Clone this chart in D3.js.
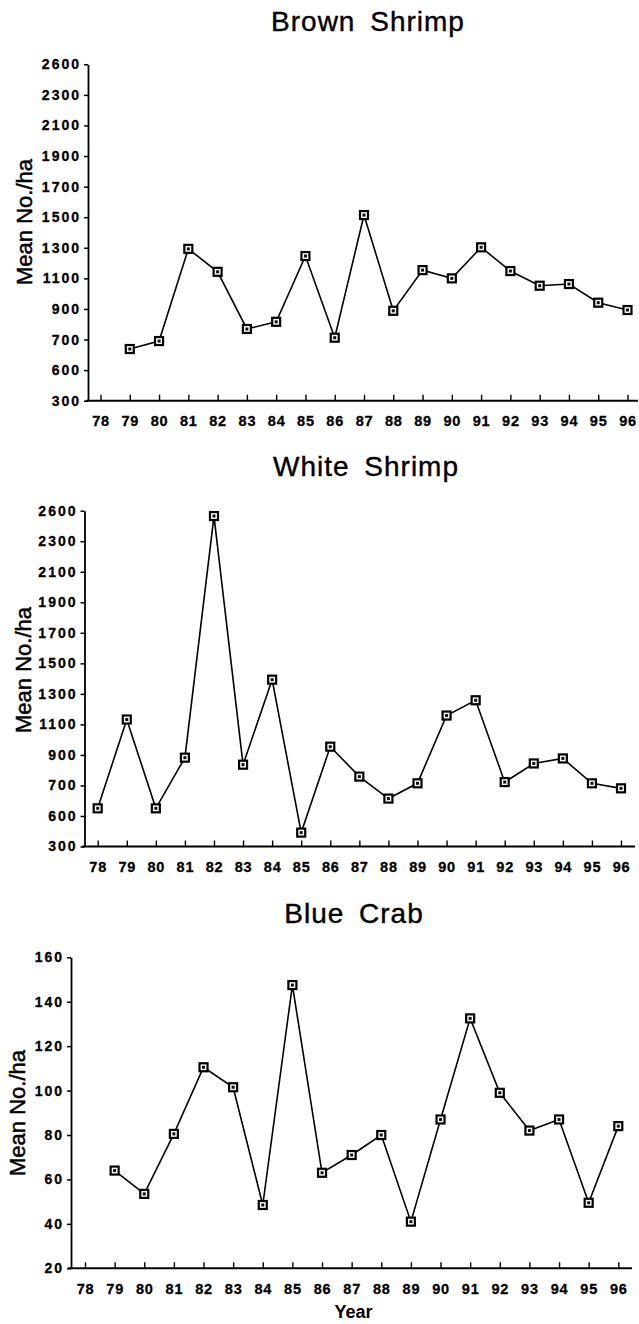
<!DOCTYPE html>
<html>
<head>
<meta charset="utf-8">
<script src="https://cdn.jsdelivr.net/npm/d3@7"></script>
<style>
  html, body { margin: 0; padding: 0; background: #fff; }
  svg { display: block; }
  .title { font-family: "Liberation Sans", Arial, sans-serif; font-size: 28px; letter-spacing: 1px; word-spacing: 6px; fill: #000; stroke: #000; stroke-width: 0.4px; }
  .ylab { font-family: "Liberation Sans", Arial, sans-serif; font-size: 22px; fill: #000; stroke: #000; stroke-width: 0.5px; }
  .ytick text { font-family: "Liberation Sans", Arial, sans-serif; font-size: 14px; font-weight: bold; letter-spacing: 2px; fill: #000; stroke: #000; stroke-width: 0.3px; }
  .xtick text { font-family: "Liberation Sans", Arial, sans-serif; font-size: 14.5px; font-weight: bold; letter-spacing: 0.8px; fill: #000; stroke: #000; stroke-width: 0.3px; }
  .xlab { font-family: "Liberation Sans", Arial, sans-serif; font-size: 18px; font-weight: bold; fill: #000; }
</style>
</head>
<body>
<script>
// ---- data ----
const years = [78, 79, 80, 81, 82, 83, 84, 85, 86, 87, 88, 89, 90, 91, 92, 93, 94, 95, 96];
const yearLabels = ["78", "79", "80", "81", "82", "83", "84", "85", "86", "87", "88", "89", "90", "91", "92", "93", "94", "95", "96"];

const brownYears = [79, 80, 81, 82, 83, 84, 85, 86, 87, 88, 89, 90, 91, 92, 93, 94, 95, 96];
const brownValues = [638, 690, 1293, 1143, 769, 816, 1246, 712, 1514, 888, 1154, 1100, 1303, 1148, 1052, 1063, 941, 893];

const whiteYears = [78, 79, 80, 81, 82, 83, 84, 85, 86, 87, 88, 89, 90, 91, 92, 93, 94, 95, 96];
const whiteValues = [550, 1132, 550, 882, 2465, 836, 1393, 391, 954, 758, 614, 714, 1158, 1258, 722, 844, 877, 714, 681];

const crabYears = [79, 80, 81, 82, 83, 84, 85, 86, 87, 88, 89, 90, 91, 92, 93, 94, 95, 96];
const crabValues = [64, 53.5, 80.5, 110.5, 101.5, 48.5, 147.5, 63, 71, 80, 41, 87, 132.5, 99, 82, 87, 49.5, 84];

const shrimpTickValues = [300, 500, 700, 900, 1100, 1300, 1500, 1700, 1900, 2100, 2300, 2500];
const shrimpTickLabels = ["300", "600", "700", "900", "1100", "1300", "1500", "1700", "1900", "2100", "2300", "2600"];

const crabTickValues = [20, 40, 60, 80, 100, 120, 140, 160];
const crabTickLabels = ["20", "40", "60", "80", "100", "120", "140", "160"];

const titles = ["Brown Shrimp", "White Shrimp", "Blue Crab"];
const yAxisTitle = "Mean No./ha";
const xAxisTitle = "Year";

// ---- drawing ----
const W = 639, H = 1324;
const svg = d3.select("body").append("svg").attr("width", W).attr("height", H);

function panel(cfg) {
  const g = svg.append("g");
  const x = d3.scaleLinear().domain([78, 96]).range([cfg.x78, cfg.x96]);
  const y = d3.scaleLinear().domain(cfg.yDomain).range([cfg.yBottom, cfg.yTop]);

  g.append("text").attr("class", "title")
    .attr("x", cfg.titleX).attr("y", cfg.titleY)
    .attr("text-anchor", "middle").text(cfg.title);

  const yAxis = d3.axisLeft(y)
    .tickValues(cfg.tickValues)
    .tickFormat((d, i) => cfg.tickLabels[i])
    .tickSize(4).tickSizeOuter(0).tickPadding(3);
  const ya = g.append("g").attr("class", "ytick")
    .attr("transform", `translate(${cfg.axisX},0)`)
    .call(yAxis);
  ya.selectAll("path.domain").attr("stroke", "#000").attr("stroke-width", 1.8);
  ya.selectAll("line").attr("stroke", "#000").attr("stroke-width", 1.5);

  const xAxis = d3.axisBottom(x)
    .tickValues(cfg.years)
    .tickFormat((d, i) => cfg.yearLabels[i])
    .tickSize(-6).tickSizeOuter(0).tickPadding(10);
  const xa = g.append("g").attr("class", "xtick")
    .attr("transform", `translate(0,${cfg.yBottom})`)
    .call(xAxis);
  xa.select("path.domain").remove();
  xa.selectAll("line").attr("stroke", "#000").attr("stroke-width", 1.4);
  xa.selectAll("text").attr("dy", "1.05em");
  g.append("line")
    .attr("x1", cfg.xLineStart).attr("x2", cfg.xLineEnd)
    .attr("y1", cfg.yBottom).attr("y2", cfg.yBottom)
    .attr("stroke", "#000").attr("stroke-width", 2);

  g.append("text").attr("class", "ylab")
    .attr("transform", `translate(${cfg.ylabX},${cfg.ylabY}) rotate(-90)`)
    .attr("text-anchor", "middle").text(yAxisTitle);

  const pts = cfg.xs.map((d, i) => [d, cfg.vals[i]]);
  const line = d3.line().x(d => x(d[0])).y(d => y(d[1]));
  g.append("path").datum(pts)
    .attr("d", line).attr("fill", "none")
    .attr("stroke", "#000").attr("stroke-width", 1.6);

  const s = 8;
  const m = g.selectAll("g.mk").data(pts).enter().append("g")
    .attr("transform", d => `translate(${x(d[0])},${y(d[1])})`);
  m.append("rect").attr("x", -s / 2).attr("y", -s / 2).attr("width", s).attr("height", s)
    .attr("fill", "#fff").attr("stroke", "#000").attr("stroke-width", 2.2);
  m.append("rect").attr("x", -1.5).attr("y", -1.5).attr("width", 3).attr("height", 3)
    .attr("fill", "#111");

  return g;
}

panel({
  title: titles[0], titleX: 368, titleY: 31,
  x78: 100.5, x96: 627.5,
  yDomain: [300, 2500], yBottom: 400.7, yTop: 64.3,
  axisX: 88, xLineStart: 86, xLineEnd: 638,
  tickValues: shrimpTickValues, tickLabels: shrimpTickLabels,
  years: years, yearLabels: yearLabels,
  xs: brownYears, vals: brownValues,
  ylabX: 32, ylabY: 222
});

panel({
  title: titles[1], titleX: 366, titleY: 476,
  x78: 97.7, x96: 621,
  yDomain: [300, 2500], yBottom: 846.5, yTop: 510.7,
  axisX: 84.5, xLineStart: 82, xLineEnd: 635,
  tickValues: shrimpTickValues, tickLabels: shrimpTickLabels,
  years: years, yearLabels: yearLabels,
  xs: whiteYears, vals: whiteValues,
  ylabX: 31, ylabY: 670
});

const p3 = panel({
  title: titles[2], titleX: 354, titleY: 923,
  x78: 85, x96: 618.3,
  yDomain: [20, 160], yBottom: 1268.3, yTop: 957.3,
  axisX: 71, xLineStart: 68, xLineEnd: 632,
  tickValues: crabTickValues, tickLabels: crabTickLabels,
  years: years, yearLabels: yearLabels,
  xs: crabYears, vals: crabValues,
  ylabX: 25, ylabY: 1113
});

p3.append("text").attr("class", "xlab")
  .attr("x", 353.5).attr("y", 1317.5)
  .attr("text-anchor", "middle").text(xAxisTitle);
</script>
</body>
</html>
